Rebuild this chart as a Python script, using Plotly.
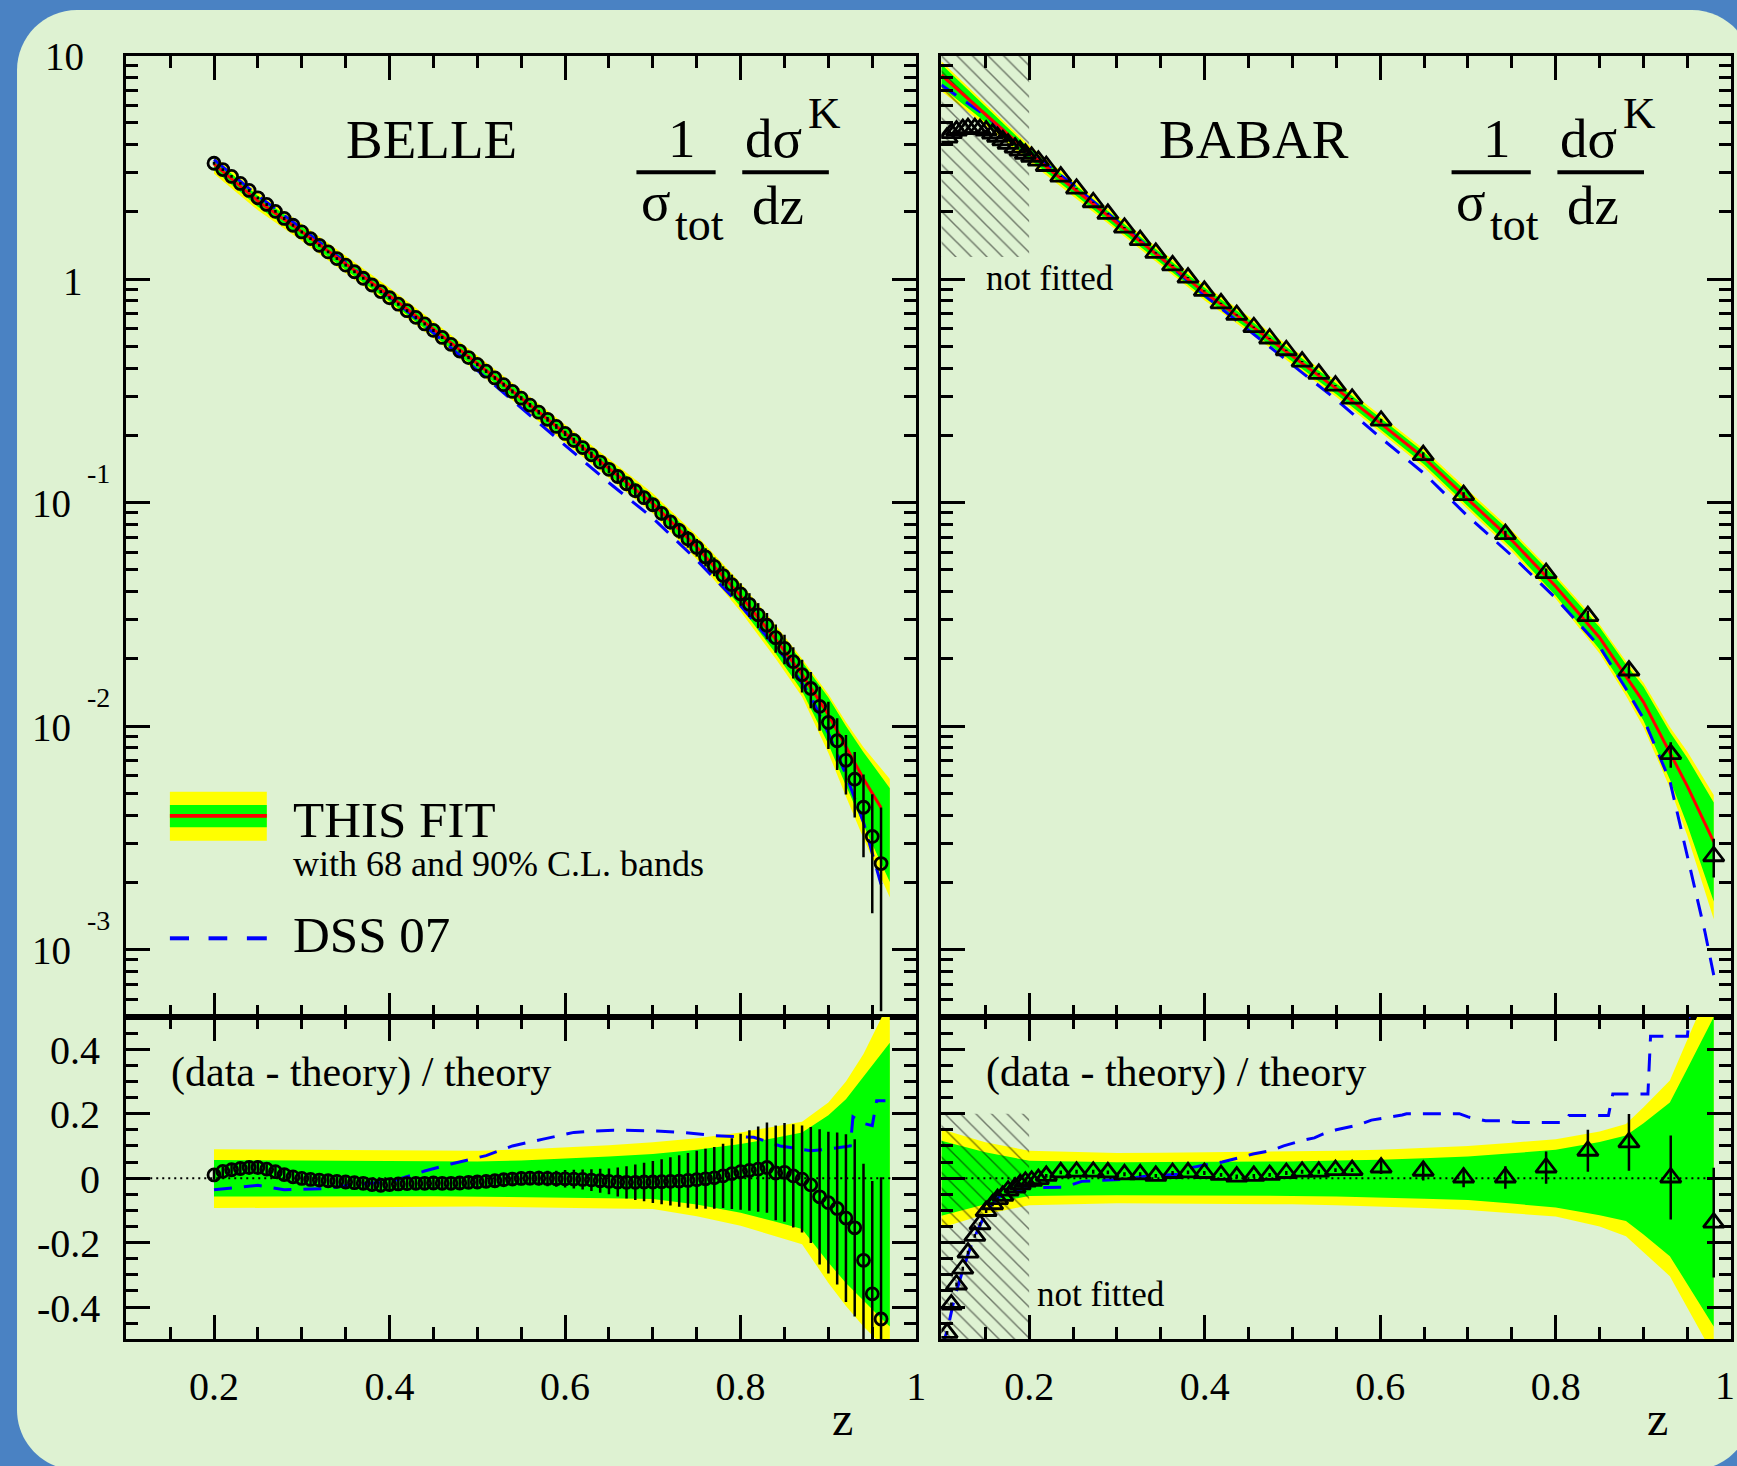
import math
import plotly.graph_objects as go

W, H = 1737, 1466          # target picture size (positions below are in these pixels)
LAYOUT_W = 1749            # page is rendered slightly wider and scaled back to W
FONT = "Liberation Serif"
BLUE_BG = "#4a82c3"
PANEL = "#def2d2"
YEL = "#ffff00"
GRN = "#00ff00"

# ---------------- BELLE data ----------------
belle_z = [0.20, 0.21, 0.22, 0.23, 0.24, 0.25, 0.26, 0.27, 0.28, 0.29, 0.30, 0.31, 0.32, 0.33, 0.34,
           0.35, 0.36, 0.37, 0.38, 0.39, 0.40, 0.41, 0.42, 0.43, 0.44, 0.45, 0.46, 0.47, 0.48, 0.49,
           0.50, 0.51, 0.52, 0.53, 0.54, 0.55, 0.56, 0.57, 0.58, 0.59, 0.60, 0.61, 0.62, 0.63, 0.64,
           0.65, 0.66, 0.67, 0.68, 0.69, 0.70, 0.71, 0.72, 0.73, 0.74, 0.75, 0.76, 0.77, 0.78, 0.79,
           0.80, 0.81, 0.82, 0.83, 0.84, 0.85, 0.86, 0.87, 0.88, 0.89, 0.90, 0.91, 0.92, 0.93, 0.94,
           0.95, 0.96]
belle_y = [3.303, 3.094, 2.883, 2.683, 2.495, 2.312, 2.160, 2.011, 1.870, 1.743, 1.627, 1.519, 1.418,
           1.325, 1.237, 1.156, 1.080, 1.010, 0.942, 0.880, 0.826, 0.773, 0.723, 0.675, 0.631, 0.590,
           0.549, 0.511, 0.477, 0.446, 0.4157, 0.3877, 0.3615, 0.3375, 0.3146, 0.2935, 0.2733, 0.2542,
           0.2362, 0.2195, 0.2042, 0.1898, 0.1764, 0.1637, 0.1520, 0.1411, 0.1310, 0.1216, 0.1131,
           0.1053, 0.0979, 0.0896, 0.0820, 0.0751, 0.0688, 0.0631, 0.0572, 0.0519, 0.0472, 0.0430,
           0.0391, 0.0351, 0.0315, 0.0283, 0.0249, 0.0223, 0.01945, 0.0170, 0.01475, 0.01227, 0.01039,
           0.00861, 0.00704, 0.00579, 0.00434, 0.00321, 0.00243]
belle_ratio = [0.010, 0.021, 0.026, 0.030, 0.033, 0.033, 0.028, 0.020, 0.011, 0.004, -0.001, -0.004,
               -0.006, -0.008, -0.010, -0.012, -0.014, -0.016, -0.020, -0.022, -0.020, -0.018, -0.017,
               -0.016, -0.016, -0.015, -0.016, -0.016, -0.015, -0.013, -0.012, -0.010, -0.008, -0.005,
               -0.003, -0.001, 0.000, 0.000, -0.001, -0.002, -0.002, -0.003, -0.004, -0.006, -0.008,
               -0.010, -0.012, -0.013, -0.013, -0.012, -0.012, -0.011, -0.010, -0.009, -0.007, -0.005,
               -0.002, 0.001, 0.007, 0.014, 0.020, 0.024, 0.028, 0.033, 0.016, 0.018, 0.007, -0.003,
               -0.021, -0.058, -0.076, -0.094, -0.124, -0.154, -0.255, -0.359, -0.437]
belle_err = [0.015, 0.015, 0.015, 0.015, 0.015, 0.015, 0.015, 0.015, 0.015, 0.015,
             0.015, 0.015, 0.015, 0.015, 0.015, 0.015, 0.015, 0.015, 0.015, 0.015,
             0.016, 0.016, 0.016, 0.016, 0.016, 0.016, 0.016, 0.016, 0.016, 0.016,
             0.018, 0.018, 0.019, 0.020, 0.020, 0.021,
             0.022, 0.023, 0.024, 0.025, 0.027, 0.029, 0.031, 0.034, 0.037, 0.040,
             0.045, 0.050, 0.055, 0.060, 0.065, 0.070, 0.075, 0.080, 0.085, 0.090,
             0.093, 0.096, 0.100, 0.110, 0.118, 0.125, 0.132, 0.140, 0.147, 0.153,
             0.160, 0.166, 0.180, 0.210, 0.220, 0.236, 0.260, 0.275, 0.300, 0.350, 0.440]

belle_fit_z = [0.20, 0.25, 0.30, 0.35, 0.40, 0.45, 0.50, 0.55, 0.60, 0.65, 0.70, 0.75, 0.80, 0.84,
               0.87, 0.90, 0.92, 0.94, 0.96, 0.97]
belle_fit_y = [3.27, 2.239, 1.629, 1.169, 0.843, 0.598, 0.421, 0.294, 0.2046, 0.1426, 0.0991, 0.0634,
               0.0383, 0.02446, 0.01706, 0.01125, 0.00804, 0.00582, 0.00432, 0.00372]
belle_yel_up = [.090, .089, .088, .087, .086, .085, .085, .089, .095, .102, .111, .124, .142, .160,
                .175, .235, .300, .385, .495, .56]
belle_grn_up = [.056, .055, .054, .053, .052, .052, .052, .055, .060, .067, .075, .088, .106, .125,
                .142, .195, .245, .315, .385, .42]
belle_grn_dn = [.057, .057, .056, .056, .056, .056, .057, .058, .060, .062, .065, .082, .107, .135,
                .158, .262, .325, .38, .435, .46]
belle_yel_dn = [.093, .092, .091, .090, .090, .089, .088, .089, .092, .094, .096, .118, .148, .180,
                .205, .325, .397, .46, .515, .54]
belle_fit_zmax = 0.96

belle_dss_z = [0.20, 0.25, 0.30, 0.35, 0.40, 0.45, 0.50, 0.55, 0.60, 0.65, 0.70, 0.75, 0.80, 0.85,
               0.88, 0.90, 0.92, 0.94, 0.96]
belle_dss_y = [3.426, 2.364, 1.686, 1.186, 0.836, 0.5756, 0.3911, 0.2644, 0.1794, 0.1228, 0.0854,
               0.0554, 0.0346, 0.0203, 0.0136, 0.00928, 0.00607, 0.00371, 0.00196]
belle_dssr_z = [0.20, 0.25, 0.28, 0.33, 0.36, 0.40, 0.44, 0.47, 0.51, 0.54, 0.575, 0.61, 0.655, 0.70,
                0.735, 0.77, 0.815, 0.845, 0.88, 0.90, 0.925, 0.928, 0.94, 0.95, 0.955, 0.965]
belle_dssr = [-0.036, -0.022, -0.036, -0.032, -0.019, -0.012, 0.022, 0.044, 0.070, 0.100, 0.121,
              0.142, 0.149, 0.147, 0.142, 0.132, 0.127, 0.100, 0.085, 0.09, 0.10, 0.19, 0.17, 0.163,
              0.24, 0.24]

# ---------------- BABAR data ----------------
babar_z = [0.1065, 0.1113, 0.1172, 0.1244, 0.1303, 0.1381, 0.144, 0.151, 0.1583, 0.164, 0.170, 0.176,
           0.184, 0.1897, 0.1957, 0.2028, 0.2105, 0.2195, 0.236, 0.254, 0.273, 0.2897, 0.3086, 0.3265,
           0.3443, 0.3634, 0.381, 0.3996, 0.4186, 0.4365, 0.456, 0.474, 0.493, 0.511, 0.530, 0.549,
           0.568, 0.601, 0.649, 0.695, 0.7426, 0.789, 0.8366, 0.8834, 0.931, 0.980]
babar_y = [4.30, 4.50, 4.62, 4.70, 4.74, 4.74, 4.70, 4.62, 4.48, 4.33, 4.18, 4.03, 3.88, 3.76, 3.64,
           3.53, 3.39, 3.21, 2.88, 2.54, 2.21, 1.96, 1.70, 1.496, 1.311, 1.153, 1.017, 0.887, 0.780,
           0.692, 0.610, 0.543, 0.481, 0.428, 0.377, 0.334, 0.292, 0.2328, 0.1633, 0.1082, 0.0724,
           0.0484, 0.0311, 0.01775, 0.0075, 0.00262]
babar_ratio = [-0.48, -0.392, -0.33, -0.281, -0.231, -0.179, -0.143, -0.102, -0.081, -0.065, -0.055,
               -0.039, -0.029, -0.019, -0.011, -0.008, -0.003, 0.007, 0.018, 0.020, 0.020, 0.018,
               0.012, 0.012, 0.007, 0.016, 0.018, 0.016, 0.010, 0.005, 0.007, 0.010, 0.016, 0.020,
               0.020, 0.025, 0.025, 0.033, 0.023, 0.002, 0.002, 0.033, 0.085, 0.111, 0.002, -0.138]
babar_err = [0.006] * 37 + [0.020, 0.030, 0.030, 0.035, 0.050, 0.065, 0.088, 0.130, 0.170]

babar_fit_z = [0.10, 0.15, 0.20, 0.25, 0.30, 0.35, 0.40, 0.45, 0.50, 0.55, 0.60, 0.65, 0.70, 0.75,
               0.80, 0.85, 0.88, 0.90, 0.93, 0.95, 0.98]
babar_fit_y = [8.2, 5.50, 3.66, 2.56, 1.79, 1.25, 0.871, 0.631, 0.452, 0.324, 0.227, 0.1585, 0.1035,
               0.0679, 0.0422, 0.0249, 0.0167, 0.01282, 0.00762, 0.00538, 0.00304]
babar_yel_up = [.152, .111, .085, .081, .078, .079, .080, .081, .082, .085, .088, .094, .100, .110,
                .121, .145, .168, .22, .303, .43, .62]
babar_grn_up = [.116, .080, .054, .051, .049, .050, .050, .051, .052, .055, .057, .062, .067, .077,
                .088, .112, .132, .17, .235, .34, .50]
babar_grn_dn = [.117, .081, .055, .054, .053, .053, .053, .054, .055, .057, .060, .064, .068, .079,
                .091, .115, .133, .175, .242, .33, .46]
babar_yel_dn = [.154, .112, .084, .081, .078, .078, .079, .080, .081, .084, .088, .093, .099, .109,
                .119, .150, .180, .23, .304, .40, .55]
babar_fit_zmax = 0.98

babar_dss_z = [0.10, 0.15, 0.20, 0.25, 0.30, 0.35, 0.40, 0.45, 0.50, 0.55, 0.60, 0.65, 0.70, 0.75,
               0.80, 0.85, 0.88, 0.90, 0.93, 0.95, 0.96, 0.97, 0.98]
babar_dss_y = [7.4, 5.4, 3.72, 2.65, 1.82, 1.25, 0.847, 0.591, 0.411, 0.289, 0.196, 0.1351, 0.0868,
               0.0579, 0.0374, 0.0227, 0.0147, 0.0108, 0.0057, 0.0026, 0.0018, 0.0012, 0.00077]
babar_dssr_z = [0.100, 0.107, 0.115, 0.125, 0.135, 0.145, 0.155, 0.165, 0.175, 0.19, 0.20, 0.24, 0.26,
                0.31, 0.33, 0.37, 0.38, 0.40, 0.42, 0.44, 0.455, 0.475, 0.49, 0.51, 0.525, 0.535, 0.55,
                0.575, 0.59, 0.625, 0.63, 0.69, 0.70, 0.72, 0.74, 0.755, 0.81, 0.815, 0.86, 0.865,
                0.905, 0.908, 0.95, 0.955]
babar_dssr = [-0.53, -0.47, -0.37, -0.28, -0.20, -0.14, -0.09, -0.06, -0.045, -0.035, -0.03, -0.028,
              -0.01, -0.003, 0.005, 0.012, 0.03, 0.041, 0.05, 0.064, 0.075, 0.085, 0.10, 0.116, 0.125,
              0.137, 0.15, 0.165, 0.18, 0.196, 0.20, 0.20, 0.19, 0.178, 0.178, 0.173, 0.173, 0.194,
              0.194, 0.261, 0.261, 0.44, 0.44, 0.60]

nf_z = [0.1, 0.2]
nf_main_low = 1.256
nf_ratio_top = 0.2

x_tick_vals = [0.2, 0.4, 0.6, 0.8, 1.0]
x_tick_text = ["0.2", "0.4", "0.6", "0.8", "1"]

# ---------------- figure ----------------
fig = go.Figure()
AX = {"belle_main": ("x", "y"), "babar_main": ("x2", "y2"),
      "belle_ratio": ("x3", "y3"), "babar_ratio": ("x4", "y4")}


def add(panel, **kw):
    xa, ya = AX[panel]
    kw.setdefault("showlegend", False)
    kw.setdefault("hoverinfo", "skip")
    fig.add_trace(go.Scatter(xaxis=xa, yaxis=ya, **kw))


def band(panel, z, lo, hi, color):
    add(panel, x=list(z) + list(z)[::-1], y=list(hi) + list(lo)[::-1], mode="lines",
        fill="toself", fillcolor=color, line=dict(width=0, color=color))


def hatch(panel, z, ylo, yhi):
    add(panel, x=[z[0], z[1], z[1], z[0], z[0]], y=[yhi, yhi, ylo, ylo, yhi], mode="lines",
        fill="toself", fillcolor="rgba(0,0,0,0)", line=dict(width=0, color="rgba(0,0,0,0)"),
        fillpattern=dict(shape="\\", size=11, solidity=0.13, fgcolor="#000000",
                         bgcolor="rgba(0,0,0,0)"))


def panel_set(main, ratio, fz, fy, zmax, yu, gu, gd, yd, dz, dy, drz, dr, dz_, dy_, rr, ee, sym,
              msize, nf=False):
    band(main, fz, [f * (1 - w) for f, w in zip(fy, yd)], [f * (1 + w) for f, w in zip(fy, yu)], YEL)
    band(main, fz, [f * (1 - w) for f, w in zip(fy, gd)], [f * (1 + w) for f, w in zip(fy, gu)], GRN)
    band(ratio, fz, [-w for w in yd], yu, YEL)
    band(ratio, fz, [-w for w in gd], gu, GRN)
    if nf:
        hatch(main, nf_z, nf_main_low, 10)
        hatch(ratio, nf_z, -0.5, nf_ratio_top)
    dash = dict(color="#0000ff", width=3, dash="18px,12px")
    add(main, x=dz, y=dy, mode="lines", line=dash)
    add(ratio, x=drz, y=dr, mode="lines", line=dash)
    fx = [z for z in fz if z <= zmax]
    add(main, x=fx, y=fy[:len(fx)], mode="lines", line=dict(color="#ff0000", width=3))
    add(ratio, x=[0.1, 1.0], y=[0, 0], mode="lines",
        line=dict(color="black", width=2, dash="2px,4px"))
    theory = [y / (1 + r) for y, r in zip(dy_, rr)]
    mk = dict(symbol=sym, size=msize, color="black", line=dict(width=2.8, color="black"))
    add(main, x=dz_, y=dy_, mode="markers", marker=mk,
        error_y=dict(type="data", array=[e * t for e, t in zip(ee, theory)], color="black",
                     thickness=2.5, width=0))
    add(ratio, x=dz_, y=rr, mode="markers", marker=mk,
        error_y=dict(type="data", array=ee, color="black", thickness=2.5, width=0))


panel_set("belle_main", "belle_ratio", belle_fit_z, belle_fit_y, belle_fit_zmax, belle_yel_up,
          belle_grn_up, belle_grn_dn, belle_yel_dn, belle_dss_z, belle_dss_y, belle_dssr_z,
          belle_dssr, belle_z, belle_y, belle_ratio, belle_err, "circle-open", 12)
panel_set("babar_main", "babar_ratio", babar_fit_z, babar_fit_y, babar_fit_zmax, babar_yel_up,
          babar_grn_up, babar_grn_dn, babar_yel_dn, babar_dss_z, babar_dss_y, babar_dssr_z,
          babar_dssr, babar_z, babar_y, babar_ratio, babar_err, "triangle-up-open", 18, nf=True)


def px(x):
    return x / W


def py(y):
    return 1 - y / H


# ---------------- axes ----------------
XL = [px(126.1), px(915.1)]
XR = [px(940.3), px(1729.3)]
Y_MAIN = [py(1017.0), py(55.7)]
Y_RAT = [py(1339.3), py(1017.0)]

common = dict(showline=True, linewidth=3, linecolor="black", mirror="ticks", ticks="inside",
              tickwidth=3, tickcolor="black", showgrid=False, zeroline=False)
xcommon = dict(common, range=[0.1, 1.0], tick0=0, dtick=0.2, ticklen=24,
               minor=dict(ticks="inside", dtick=0.05, ticklen=12, tickwidth=2.5, tickcolor="black"))


def x_lab(texts):
    return dict(tickmode="array", tickvals=x_tick_vals, ticktext=texts,
                tickfont=dict(family=FONT, size=40, color="black"), ticklabelstandoff=10)


ymain = dict(common, type="log", range=[math.log10(5e-4), 1], dtick=1, ticklen=24,
             showticklabels=False,
             minor=dict(ticks="inside", dtick="D1", ticklen=12, tickwidth=2.5, tickcolor="black"))
yrat = dict(common, range=[-0.5, 0.5], tick0=0, dtick=0.2, ticklen=24, showticklabels=False,
            minor=dict(ticks="inside", dtick=0.05, ticklen=12, tickwidth=2.5, tickcolor="black"))

fig.update_layout(
    width=LAYOUT_W, height=H, margin=dict(l=0, r=0, t=0, b=0),
    paper_bgcolor=BLUE_BG, plot_bgcolor="rgba(0,0,0,0)", showlegend=False,
    xaxis=dict(xcommon, domain=XL, anchor="y", showticklabels=False),
    xaxis2=dict(xcommon, domain=XR, anchor="y2", showticklabels=False),
    xaxis3=dict(xcommon, domain=XL, anchor="y3", **x_lab(x_tick_text)),
    # the last label of the right panel sits at the picture edge; it is drawn as an annotation
    xaxis4=dict(xcommon, domain=XR, anchor="y4", **x_lab(x_tick_text[:-1] + [""])),
    yaxis=dict(ymain, domain=Y_MAIN, anchor="x"),
    yaxis2=dict(ymain, domain=Y_MAIN, anchor="x2"),
    yaxis3=dict(yrat, domain=Y_RAT, anchor="x3"),
    yaxis4=dict(yrat, domain=Y_RAT, anchor="x4"),
)

# ---------------- shapes ----------------
shapes = []
L, T, R, B, r = 17, 10, 1750, 1470, 60
k = 0.5523 * r
path = (f"M {px(L + r)},{py(T)} L {px(R - r)},{py(T)} "
        f"C {px(R - r + k)},{py(T)} {px(R)},{py(T + r - k)} {px(R)},{py(T + r)} "
        f"L {px(R)},{py(B - r)} "
        f"C {px(R)},{py(B - r + k)} {px(R - r + k)},{py(B)} {px(R - r)},{py(B)} "
        f"L {px(L + r)},{py(B)} "
        f"C {px(L + r - k)},{py(B)} {px(L)},{py(B - r + k)} {px(L)},{py(B - r)} "
        f"L {px(L)},{py(T + r)} "
        f"C {px(L)},{py(T + r - k)} {px(L + r - k)},{py(T)} {px(L + r)},{py(T)} Z")
shapes.append(dict(type="path", path=path, xref="paper", yref="paper", fillcolor=PANEL,
                   line=dict(width=0), layer="below"))


def rect(x0, y0, x1, y1, color):
    shapes.append(dict(type="rect", xref="paper", yref="paper", x0=px(x0), x1=px(x1), y0=py(y1),
                       y1=py(y0), fillcolor=color, line=dict(width=0), layer="above"))


def hline(x0, x1, y, color, width):
    shapes.append(dict(type="line", xref="paper", yref="paper", x0=px(x0), x1=px(x1), y0=py(y),
                       y1=py(y), line=dict(color=color, width=width), layer="above"))


rect(169.7, 791.7, 266.5, 840.7, YEL)
rect(169.7, 805.0, 266.5, 827.3, GRN)
hline(169.7, 266.5, 815.9, "#ff0000", 3.7)
for a, b in [(169.7, 188.8), (208.3, 227.0), (246.6, 266.5)]:
    hline(a, b, 938.3, "#0000ff", 4)

for off in (0, -814.2):
    hline(1449.9 + off, 1529.0 + off, 172.3, "black", 4)
    hline(1555.6 + off, 1642.1 + off, 172.3, "black", 4)

fig.update_layout(shapes=shapes)

# ---------------- annotations ----------------
ann = []


def text(s, x, y, size, anchor="center", yref="paper", yshift=0):
    ann.append(dict(text=s, x=px(x), y=py(y) if yref == "paper" else y,
                    xref="paper", yref=yref, xanchor=anchor, yanchor="middle", showarrow=False,
                    yshift=yshift, font=dict(family=FONT, size=size, color="black")))


text("BELLE", 431, 139, 55)
text("BABAR", 1253, 139, 55)
for off in (0, -814.2):
    text("1", 1495.3 + off, 138.5, 55)
    text("σ", 1469.7 + off, 201.7, 55)
    text("tot", 1486 + off, 224.8, 46, anchor="left")
    text("dσ", 1586.8 + off, 138.5, 55)
    text("K", 1619 + off, 113.4, 45, anchor="left")
    text("dz", 1591.4 + off, 205.1, 55)

text("not fitted", 983, 278.2, 35, anchor="left")
text("not fitted", 1034, 1294.9, 35, anchor="left")
text("(data - theory) / theory", 169, 1072, 42, anchor="left")
text("(data - theory) / theory", 983, 1072, 42, anchor="left")

text("THIS FIT", 291, 819.8, 51, anchor="left")
text("with 68 and 90% C.L. bands", 291, 863.8, 36, anchor="left")
text("DSS 07", 291, 934.8, 51, anchor="left")

text("z", 841.4, 1418.8, 48)
text("z", 1655.3, 1418.8, 48)

# last x label of the BABAR panel (kept inside the picture)
text(x_tick_text[-1], 1723, 1385, 40)

text("10", 86, 1, 39, anchor="right", yref="y", yshift=-1)
text("1", 85, 0, 39, anchor="right", yref="y", yshift=-2)
for e in (-1, -2, -3):
    text("10", 30, e, 39, anchor="left", yref="y", yshift=-1)
    text(f"-{-e}", 85, e, 28, anchor="left", yref="y", yshift=29)

for v, s in [(0.4, "0.4"), (0.2, "0.2"), (0, "0"), (-0.2, "-0.2"), (-0.4, "-0.4")]:
    text(s, 102, v, 40, anchor="right", yref="y3", yshift=-1)

fig.update_layout(annotations=ann)

page_css = ("document.body.style.margin='0';"
            "document.body.style.background='" + PANEL + "';")
fig.write_html("out.html", post_script=page_css)
